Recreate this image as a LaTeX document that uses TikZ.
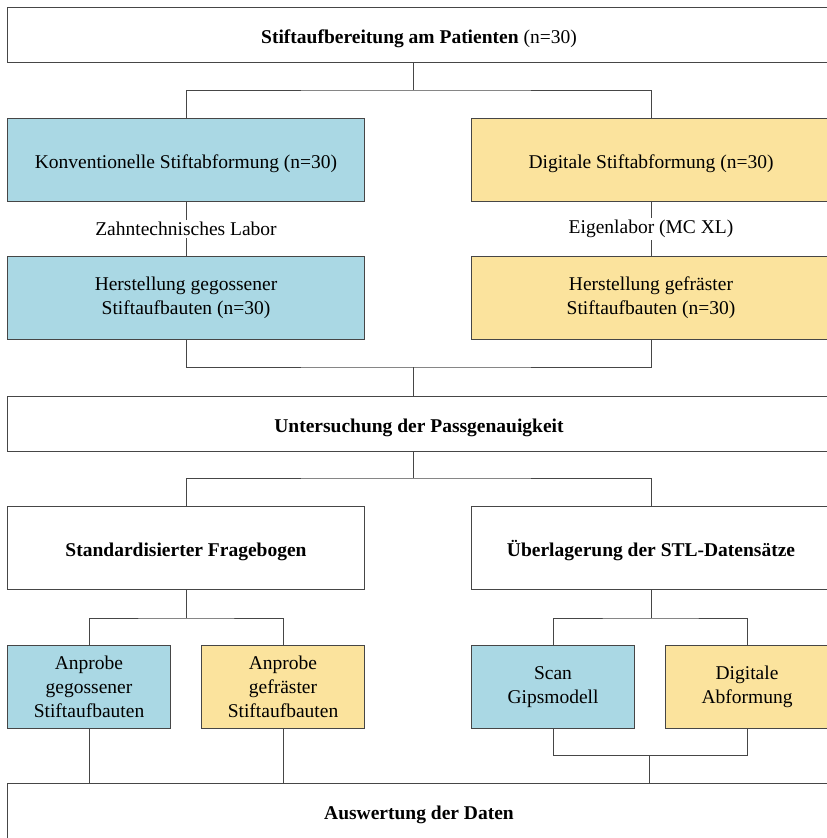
\documentclass[tikz,border=0pt]{standalone}
\usepackage{fontspec}
\setmainfont{Liberation Serif}
\definecolor{cblue}{RGB}{170,216,228}
\definecolor{cyel}{RGB}{251,227,157}
\definecolor{cline}{RGB}{70,70,70}
\begin{document}
\begin{tikzpicture}[x=1pt,y=-1pt,
  box/.style={draw=cline, line width=1pt, align=center, inner sep=0pt, anchor=north west,
    font=\fontsize{19.5}{24}\selectfont},
  wide/.style={box, fill=white, minimum width=823pt, minimum height=55pt},
  half/.style={box, minimum width=357pt, minimum height=83pt},
  small/.style={box, minimum width=163pt, minimum height=83pt},
  one/.style={text height=17.5pt, text depth=0pt},
  blue/.style={fill=cblue},
  yel/.style={fill=cyel},
  wbox/.style={fill=white},
  conn/.style={draw=cline, line width=1pt},
  lbl/.style={fill=white, inner sep=2pt, font=\fontsize{19.5}{24}\selectfont}
]
\useasboundingbox (0,0) rectangle (827,838);
\clip (0,0) rectangle (827,838);
\fill[white] (0,0) rectangle (827,838);

% boxes
\node[wide, one] (top) at (7,7) {\textbf{Stiftaufbereitung am Patienten} (n=30)};
\node[half, blue, one] (kon) at (7,118) {Konventionelle Stiftabformung (n=30)};
\node[half, yel, one, minimum width=359pt] (dig) at (471,118) {Digitale Stiftabformung (n=30)};
\node[half, blue] (her1) at (7,256) {Herstellung gegossener\\Stiftaufbauten (n=30)};
\node[half, yel, minimum width=359pt] (her2) at (471,256) {Herstellung gefräster\\Stiftaufbauten (n=30)};
\node[wide, one] (unt) at (7,396) {\textbf{Untersuchung der Passgenauigkeit}};
\node[half, wbox, one] (fra) at (7,506) {\textbf{Standardisierter Fragebogen}};
\node[half, wbox, one, minimum width=359pt] (stl) at (471,506) {\textbf{Überlagerung der STL-Datensätze}};
\node[small, blue] (a1) at (7,645) {Anprobe\\gegossener\\Stiftaufbauten};
\node[small, yel] (a2) at (201,645) {Anprobe\\gefräster\\Stiftaufbauten};
\node[small, blue] (scan) at (471,645) {Scan\\Gipsmodell};
\node[small, yel] (dab) at (665,645) {Digitale\\Abformung};
\node[wide, one] (aus) at (7,783) {\textbf{Auswertung der Daten}};

% connectors
\coordinate (j1) at (413,90);
\draw[conn] (top.south -| j1) -- (j1);
\draw[conn] (kon.north) |- (j1) -| (dig.north);
\draw[conn] (kon.south) -- node[lbl] {Zahntechnisches Labor} (her1.north);
\draw[conn] (dig.south) -- node[lbl] {Eigenlabor (MC XL)} (her2.north);
\coordinate (j2) at (413,367);
\draw[conn] (her1.south) |- (j2) -| (her2.south);
\draw[conn] (j2) -- (j2 |- unt.north);
\coordinate (j3) at (413,478);
\draw[conn] (unt.south -| j3) -- (j3);
\draw[conn] (fra.north) |- (j3) -| (stl.north);
\draw[conn] (fra.south) -- ++(0,28) coordinate (j4);
\draw[conn] (a1.north) |- (j4) -| (a2.north);
\draw[conn] (stl.south) -- ++(0,28) coordinate (j5);
\draw[conn] (scan.north) |- (j5) -| (dab.north);
\draw[conn] (a1.south) -- (a1.south |- aus.north);
\draw[conn] (a2.south) -- (a2.south |- aus.north);
\coordinate (j6) at (649,755);
\draw[conn] (scan.south) |- (j6) -| (dab.south);
\draw[conn] (j6) -- (j6 |- aus.north);
\end{tikzpicture}
\end{document}
